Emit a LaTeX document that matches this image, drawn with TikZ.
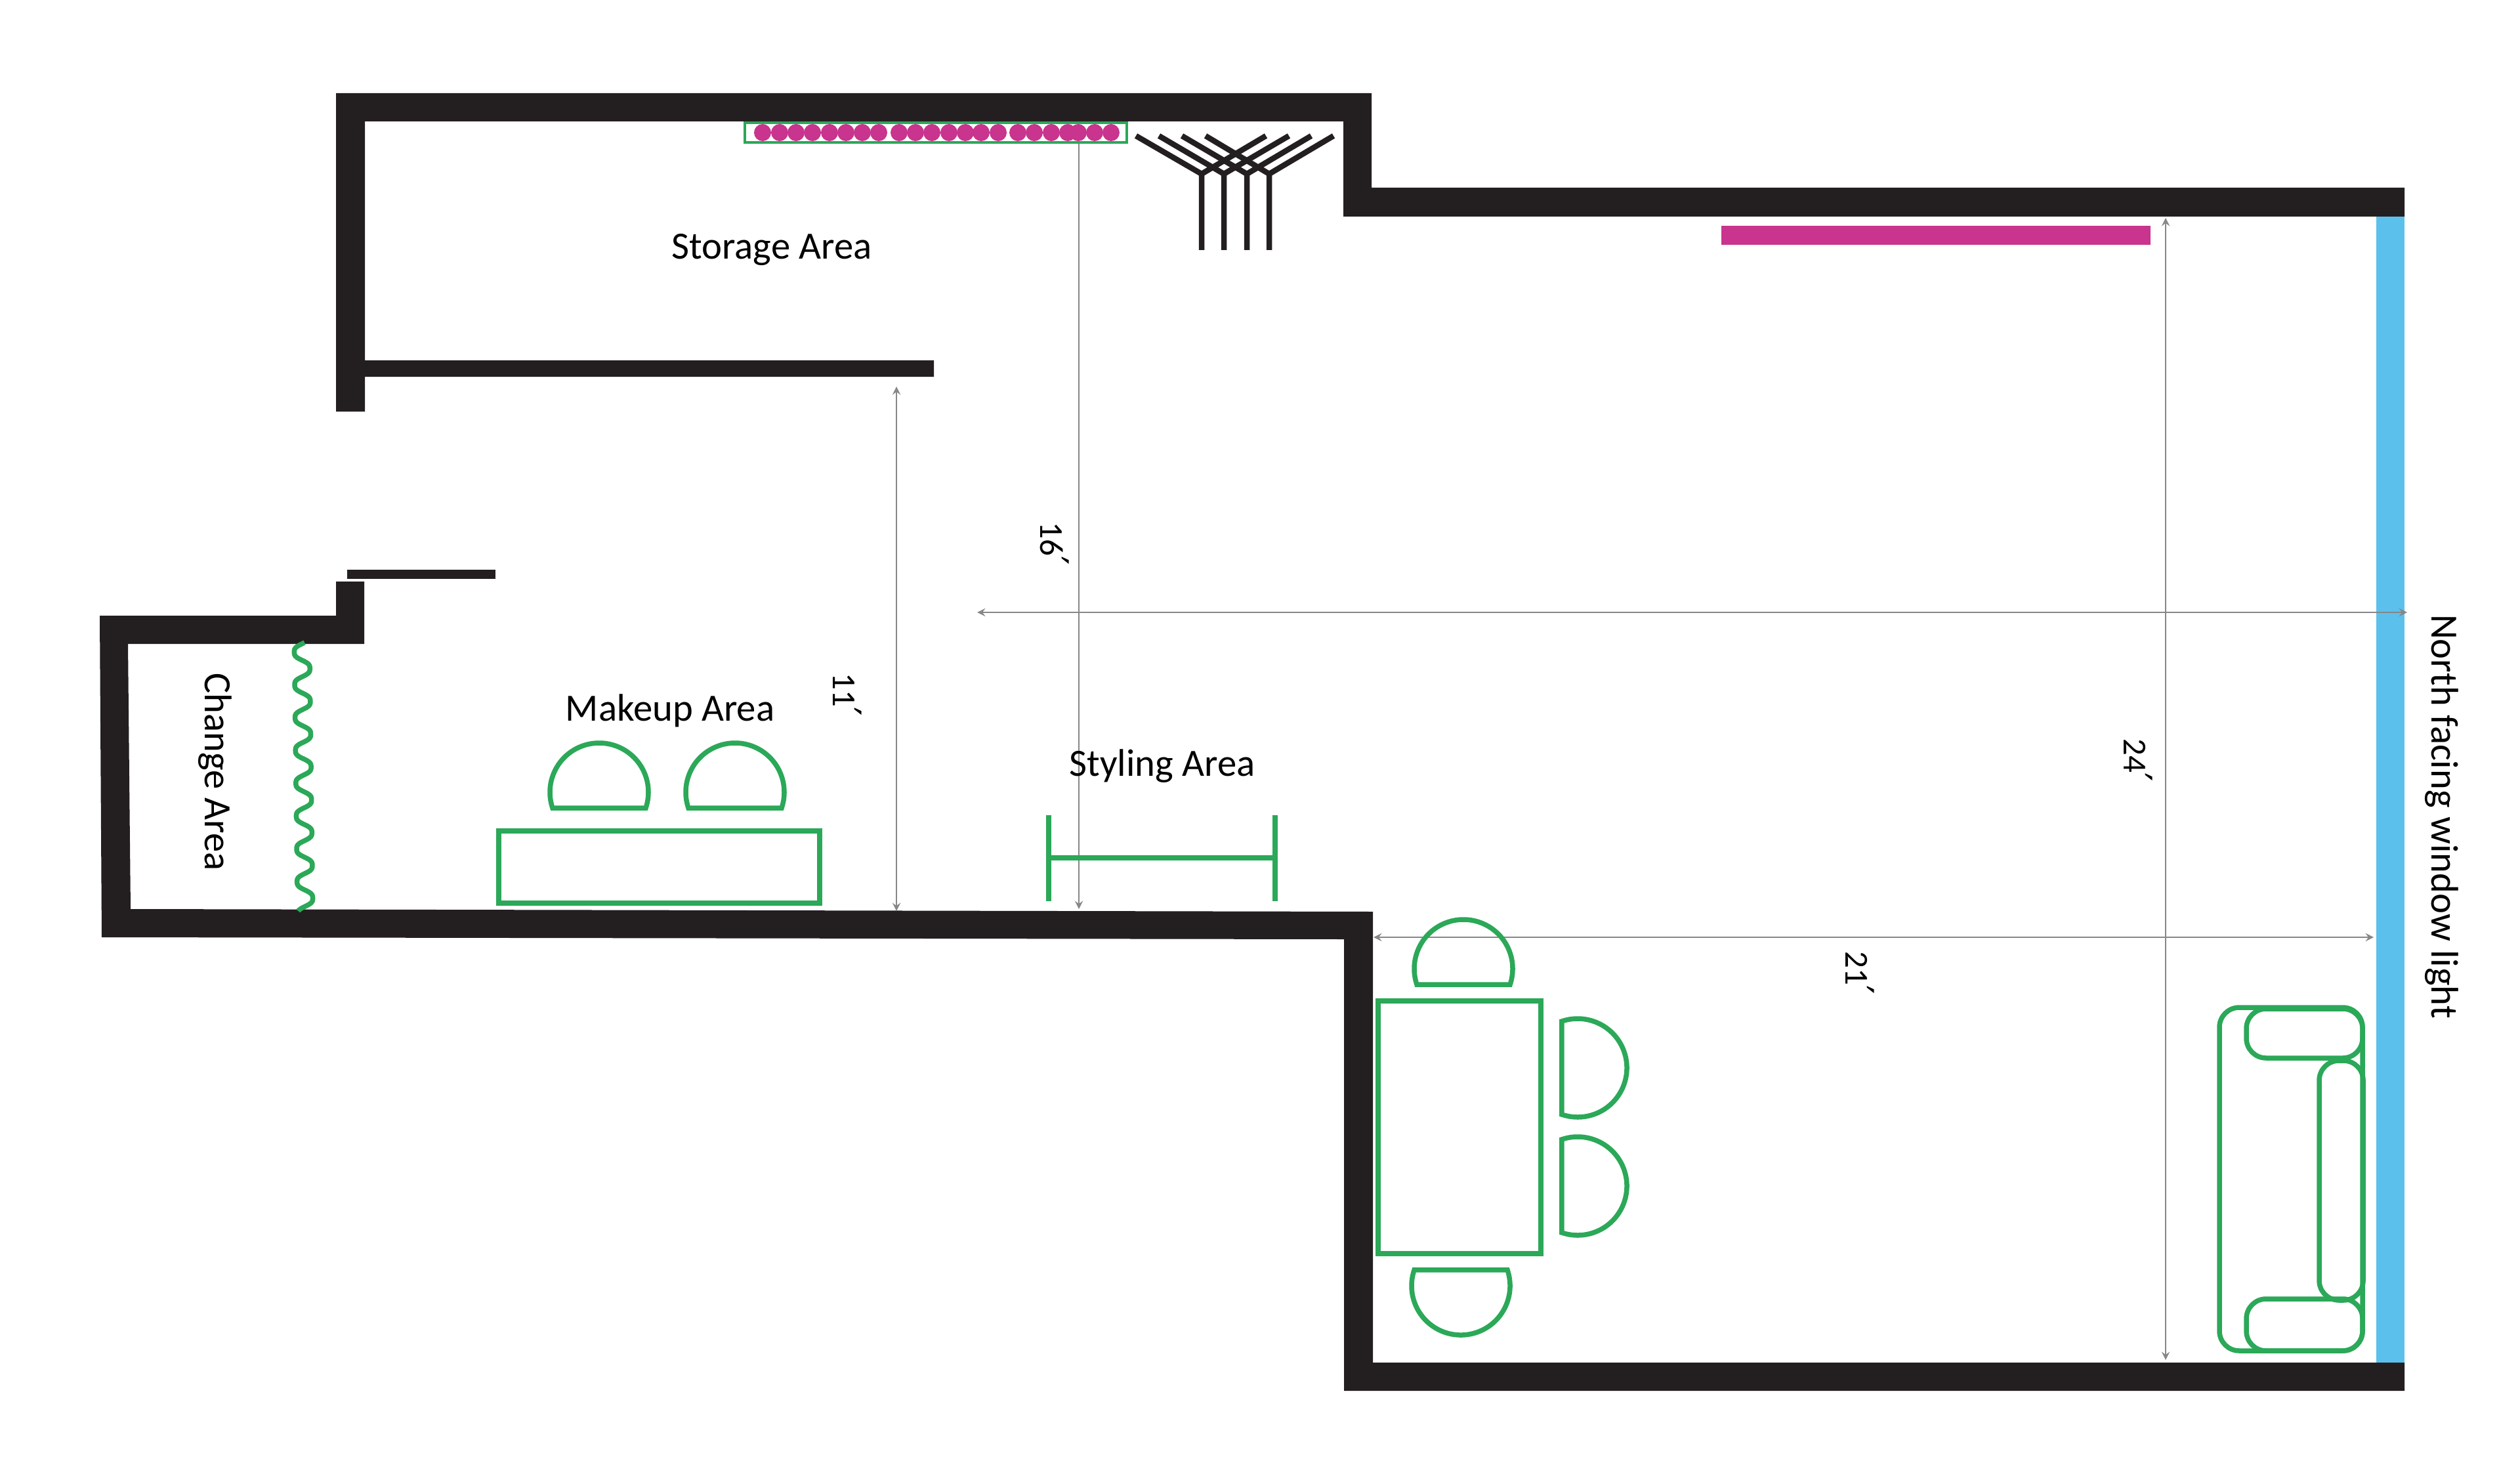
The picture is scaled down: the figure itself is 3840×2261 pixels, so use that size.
\documentclass[tikz,border=0pt]{standalone}
\usepackage{fontspec}
\setmainfont{Carlito}
\newfontfamily\primefont{DejaVu Sans}
\definecolor{wallcol}{RGB}{35,31,32}
\definecolor{greencol}{RGB}{43,168,88}
\definecolor{pinkcol}{RGB}{200,52,142}
\definecolor{bluecol}{RGB}{92,192,236}
\definecolor{dimcol}{RGB}{135,135,135}
\newcommand{\primemark}{{\primefont\fontsize{17}{17}\selectfont ′}}
\begin{document}
\begin{tikzpicture}[x=0.01cm, y=-0.01cm, >=stealth,
  wall/.style={fill=wallcol,draw=none},
  furn/.style={draw=greencol,line width=0.75mm},
  dimline/.style={<->,draw=dimcol,line width=0.2mm},
  rackline/.style={draw=wallcol,line width=0.85mm},
  areatext/.style={font=\fontsize{16.7}{20}\selectfont,inner sep=0pt},
  dimtext/.style={font=\fontsize{14.5}{16}\selectfont,inner sep=0pt,rotate=-90}]
\useasboundingbox (0,0) rectangle (3840,2261);

% walls
\fill[wall] (512,142) -- (2090,142) -- (2090,286) -- (3664,286) -- (3664,330) -- (2047,330) -- (2047,185) -- (556,185) -- (556,549) -- (1423,549) -- (1423,574) -- (556,574) -- (556,627) -- (512,627) -- cycle;
\fill[wall] (152,938) -- (512,938) -- (512,886) -- (555,886) -- (555,981) -- (195,981) -- (199,1385) -- (2092,1389) -- (2092,2076) -- (3664,2076) -- (3664,2119) -- (2048,2119) -- (2048,1431) -- (155,1428) -- cycle;
\fill[wall] (529,868) rectangle (755,882);

% window and magenta bar
\fill[bluecol] (3621,330) rectangle (3664,2076);
\fill[pinkcol] (2623,344) rectangle (3277,373);

% dimension lines
\coordinate (d11a) at (1366,589);
\coordinate (d11b) at (1366,1388);
\coordinate (d16a) at (1644,217);
\coordinate (d16b) at (1644,1385);
\coordinate (d24a) at (3300,332);
\coordinate (d24b) at (3300,2072);
\coordinate (d21a) at (2093,1428);
\coordinate (d21b) at (3617,1428);
\coordinate (dwa) at (1489,933);
\coordinate (dwb) at (3668,933);
\draw[dimline] (d11a) -- (d11b);
\draw[dimline,<-] (d16b) -- (d16a);
\draw[dimline] (d24a) -- (d24b);
\draw[dimline] (d21a) -- (d21b);
\draw[dimline] (dwa) -- (dwb);

% rack with clothes
\draw[furn,line width=0.35mm] (1135,187) rectangle (1717,217);
\foreach \px in {1162,1188,1213,1238,1264,1289,1314,1339,1370,1395,1420,1446,1471,1495,1521,1551,1576,1602,1627,1643,1668,1693}
  \fill[pinkcol] (\px,202) circle (13);

% stands
\foreach \sx/\lx/\rx in {1831/1731/1929,1865/1766/1964,1900/1801/1998,1934/1837/2032}
  \draw[rackline] (\lx,207) -- (\sx,265) -- (\rx,207) (\sx,265) -- (\sx,381);

% curtain
\draw[furn] plot[domain=979:1388,samples=200,smooth] ({460+5*(\x-979)/409+13*sin((\x-1006)*7.2)+1.2*sin((\x-1006)*21.6)},\x);

% makeup table and chairs
\draw[furn] (760,1266) rectangle (1249,1376);
\foreach \cx/\cy/\ang in {913/1207/-90,1120/1207/-90,2230/1476/-90,2226/1959/90,2404/1627/0,2404/1807/0}
  \draw[furn] (\cx,\cy) ++(\ang-108.7:75) arc[start angle=\ang-108.7,end angle=\ang+108.7,radius=75] -- cycle;

% dining table
\draw[furn] (2100,1525) rectangle (2348,1910);

% styling rail
\draw[furn] (1598,1242) -- (1598,1373);
\draw[furn] (1943,1242) -- (1943,1373);
\draw[furn] (1598,1307) -- (1943,1307);

% sofa
\draw[furn,rounded corners=0.3cm] (3382,1535) rectangle (3600,2058);
\draw[furn,rounded corners=0.3cm] (3423,1537) rectangle (3600,1612);
\draw[furn,rounded corners=0.3cm] (3423,1979) rectangle (3600,2058);
\draw[furn,rounded corners=0.3cm] (3534,1616) rectangle (3601,1981);

% labels
\node[areatext] (storage) at (1176,380) {Storage Area};
\node[areatext] (makeup) at (1021,1083) {Makeup Area};
\node[areatext] (styling) at (1771,1167) {Styling Area};
\node[areatext,rotate=-90] (change) at (328,1176) {Change Area};
\node[areatext,rotate=-90] (north) at (3721,1244) {North facing window light};
\node[dimtext] (d11) at (1291,1058) {11\primemark};
\node[dimtext] (d16) at (1607,828) {16\primemark};
\node[dimtext] (d24) at (3258,1158) {24\primemark};
\node[dimtext] (d21) at (2834,1482) {21\primemark};
\end{tikzpicture}
\end{document}
